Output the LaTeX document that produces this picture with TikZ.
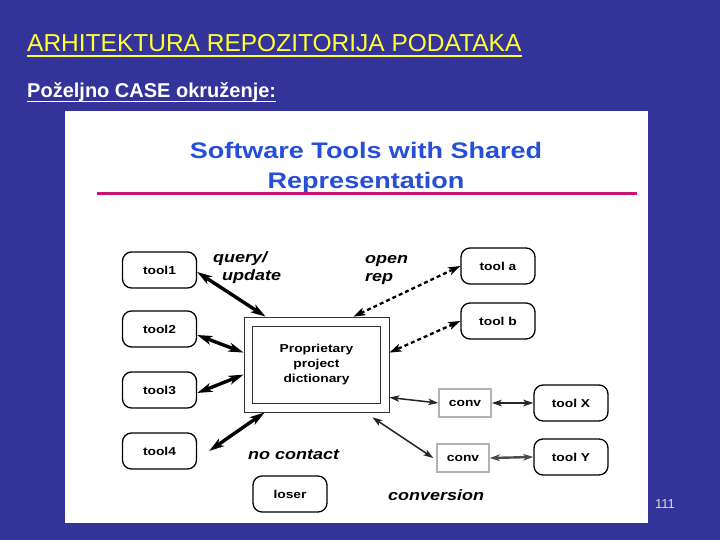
\documentclass[tikz,border=0pt]{standalone}
\usepackage{fontspec}
\setmainfont{Liberation Sans}
\newfontfamily\diagfont[FakeStretch=1.2]{Liberation Sans}
\usetikzlibrary{arrows.meta, positioning}

\definecolor{slideblue}{RGB}{51,51,153}
\definecolor{slideyellow}{RGB}{255,255,51}
\definecolor{headblue}{RGB}{38,78,214}
\definecolor{rulemagenta}{RGB}{204,20,120}

\begin{document}
\begin{tikzpicture}[x=1pt, y=-1pt,
        tool/.style={rectangle, rounded corners=9pt, draw, line width=1.3pt,
                     minimum width=74pt, minimum height=36pt,
                     font=\diagfont\bfseries\fontsize{11.5}{13}\selectfont},
        conv/.style={rectangle, draw=gray!60, line width=1.4pt,
                     minimum width=52pt, minimum height=28pt,
                     font=\diagfont\bfseries\fontsize{11.5}{13}\selectfont},
        note/.style={anchor=base west, inner sep=0pt, align=left,
                     font=\diagfont\bfseries\itshape\fontsize{15}{17.5}\selectfont},
        link/.style={{Stealth[length=15pt,width=9pt,inset=4pt]}-{Stealth[length=15pt,width=9pt,inset=4pt]},
                     line width=3.4pt},
        dashlink/.style={{Stealth[length=12pt,width=8pt,inset=3pt]}-{Stealth[length=12pt,width=8pt,inset=3pt]},
                     line width=2.3pt, dash pattern=on 4pt off 3pt},
        thinlink/.style={{Stealth[length=10pt,width=6.5pt,inset=2.5pt]}-{Stealth[length=10pt,width=6.5pt,inset=2.5pt]},
                     line width=1.5pt, black!85}
    ]
    \useasboundingbox (0,0) rectangle (720,540);
    \fill[slideblue] (0,0) rectangle (720,540);
    \fill[white] (65,111) rectangle (648,523);

    % slide headings
    \node[anchor=base west, inner sep=0pt, text=slideyellow,
          font=\fontsize{24.5}{26}\selectfont] (title) at (27,52)
          {ARHITEKTURA REPOZITORIJA PODATAKA};
    \draw[slideyellow, line width=1.6pt] ([yshift=-4pt]title.base west) -- ([yshift=-4pt]title.base east);
    \node[anchor=base west, inner sep=0pt, text=white,
          font=\bfseries\fontsize{20}{22}\selectfont] (sub) at (27,98)
          {Poželjno CASE okruženje:};
    \draw[white, line width=1.4pt] ([yshift=-3.5pt]sub.base west) -- ([yshift=-3.5pt]sub.base east);

    \node[align=center, text=headblue, inner sep=0pt,
          font=\diagfont\bfseries\fontsize{22.5}{30}\selectfont] (head) at (366,168)
          {Software Tools with Shared\\Representation};
    \draw[rulemagenta, line width=3pt] (97,194) -- (637,194);

    % tools
    \node[tool] (tool1) at (159.5,270) {tool1};
    \node[tool] (tool2) at (159.5,329) {tool2};
    \node[tool] (tool3) at (159.5,390) {tool3};
    \node[tool] (tool4) at (159.5,451) {tool4};
    \node[tool] (toola) at (498,266) {tool a};
    \node[tool] (toolb) at (498,321) {tool b};
    \node[tool] (toolx) at (571,403) {tool X};
    \node[tool] (tooly) at (571,457) {tool Y};
    \node[tool] (loser) at (290,494) {loser};

    % repository
    \node[rectangle, draw=black!80, line width=0.8pt, minimum width=145pt, minimum height=95pt] (dict) at (316.5,364.5) {};
    \node[rectangle, draw=black!80, line width=0.8pt, minimum width=128pt, minimum height=77pt,
          align=center, font=\diagfont\bfseries\fontsize{11.5}{15}\selectfont] (dictin) at (dict.center)
          {Proprietary\\project\\dictionary};

    \node[conv] (convx) at (465,403) {conv};
    \node[conv] (convy) at (463,458) {conv};

    % labels
    \node[note] (query) at (213,280) {query/\\\hspace{9pt}update};
    \node[note] (openrep) at (365,281) {open\\rep};
    \node[note] (nocontact) at (248,459) {no contact};
    \node[note] (conversion) at (388,500) {conversion};

    \draw[link] ([yshift=-2pt]tool1.east) -- ([xshift=22pt]dict.north west);
    \draw[link] ([yshift=-6pt]tool2.east) -- ([yshift=-36pt]dict.north west);
    \draw[link] ([yshift=-3pt]tool3.east) -- ([yshift=-58pt]dict.north west);
    \draw[link] ([xshift=12pt]tool4.east) -- ([xshift=21pt]dict.south west);
    \draw[dashlink] (toola.west) -- ([xshift=-36pt]dict.north east);
    \draw[dashlink] (toolb.west) -- ([yshift=-36pt]dict.north east);
    \draw[thinlink] ([yshift=-33pt]dict.east) -- (convx.west);
    \draw[thinlink] ([xshift=-17pt,yshift=-5pt]dict.south east) -- ([xshift=-3pt]convy.west);
    \draw[thinlink, line width=2.4pt] (convx.east) -- (toolx.west);
    \draw[thinlink, line width=2.4pt, black!70] (convy.east) -- (tooly.west);

    \node[anchor=base, text=black!15!white, font=\fontsize{13}{13}\selectfont] (pagenum) at (665,508) {111};
\end{tikzpicture}
\end{document}
